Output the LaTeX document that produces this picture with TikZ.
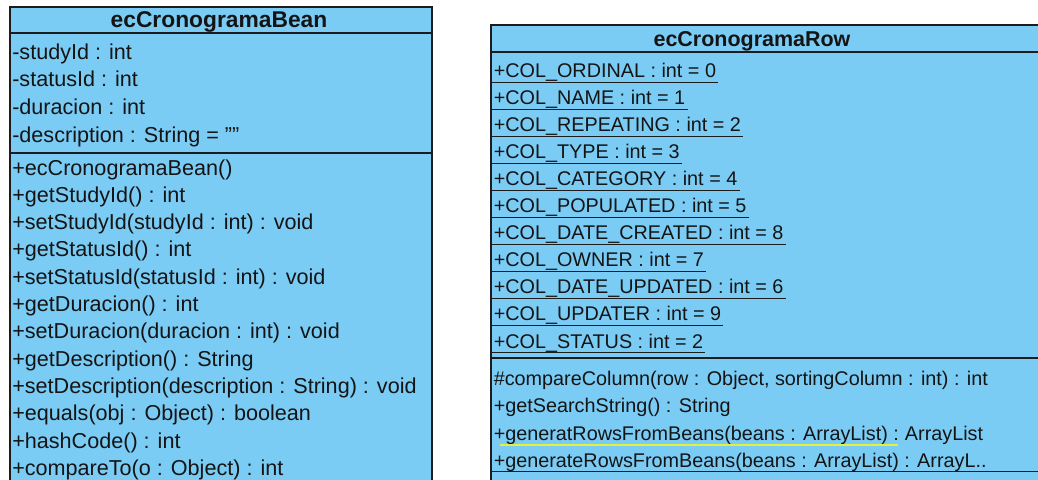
\documentclass[tikz,border=0pt]{standalone}
\usepackage{fontspec}
\setmainfont{Liberation Sans}
\definecolor{umlfill}{RGB}{122,204,245}
\definecolor{umlline}{RGB}{28,28,28}
\definecolor{umltext}{RGB}{20,20,20}
\definecolor{squiggle}{RGB}{228,240,60}

\begin{document}
\begin{tikzpicture}[x=0.75pt,y=-0.75pt,
  classbox/.style={fill=umlfill, draw=umlline, line width=1.5pt},
  compsep/.style={draw=umlline, line width=1.5pt},
  ulined/.style={draw=umlline, line width=0.9pt},
  txtL/.style={anchor=base west, inner sep=0pt, text=umltext,
    font=\fontsize{16.2}{18}\selectfont},
  txtR/.style={anchor=base west, inner sep=0pt, text=umltext,
    font=\fontsize{14.85}{18}\selectfont},
  titleL/.style={anchor=base, inner sep=0pt, text=umltext,
    font=\fontsize{17.1}{20}\selectfont\bfseries},
  titleR/.style={anchor=base, inner sep=0pt, text=umltext,
    font=\fontsize{16.1}{20}\selectfont\bfseries}]

\fill[white] (0,0) rectangle (1038,479);
\useasboundingbox (0,0) rectangle (1038,479);
\clip (0,0) rectangle (1038,479);

% ---- class ecCronogramaBean ----
\draw[classbox] (10,7) rectangle (432,500);
\draw[compsep] (10,33) -- (432,33);
\draw[compsep] (10,153) -- (432,153);
\node[titleL] (beanTitle) at (219,27) {ecCronogramaBean};

\foreach \t [count=\i from 0] in {{-studyId : int},{-statusId : int},
    {-duracion : int},{-description : String = ""}}
  \node[txtL] (ba\i) at (12,{59+27.7*\i}) {\t};

\foreach \t [count=\i from 0] in {{+ecCronogramaBean()},{+getStudyId() : int},
    {+setStudyId(studyId : int) : void},{+getStatusId() : int},
    {+setStatusId(statusId : int) : void},{+getDuracion() : int},
    {+setDuracion(duracion : int) : void},{+getDescription() : String},
    {+setDescription(description : String) : void},
    {+equals(obj : Object) : boolean},{+hashCode() : int},
    {+compareTo(o : Object) : int}}
  \node[txtL] (bm\i) at (12,{175+27.3*\i}) {\t};

% ---- class ecCronogramaRow ----
\draw[classbox] (491,25) rectangle (1060,500);
\draw[compsep] (491,52) -- (1060,52);
\draw[compsep] (491,358) -- (1060,358);
\node[titleR] (rowTitle) at (752,46.5) {ecCronogramaRow};

% static attributes, underlined
\foreach \t [count=\i from 0] in {{+COL\_ORDINAL : int = 0},{+COL\_NAME : int = 1},
    {+COL\_REPEATING : int = 2},{+COL\_TYPE : int = 3},
    {+COL\_CATEGORY : int = 4},{+COL\_POPULATED : int = 5},
    {+COL\_DATE\_CREATED : int = 8},{+COL\_OWNER : int = 7},
    {+COL\_DATE\_UPDATED : int = 6},{+COL\_UPDATER : int = 9},
    {+COL\_STATUS : int = 2}}
{
  \node[txtR] (ra\i) at (493.5,{77.7+27.03*\i}) {\t};
  \draw[ulined] ([shift={(-1.5,4.5)}]ra\i.base west) -- ([shift={(2,4.5)}]ra\i.base east);
}

% operations
\node[txtR] (rm0) at (493.5,385) {\#compareColumn(row : Object, sortingColumn : int) : int};
\node[txtR] (rm1) at (493.5,412.5) {+getSearchString() : String};
\node[txtR] (rm2) at (493.5,440) {+generatRowsFromBeans(beans : ArrayList) :};
\node[txtR] (rm2r) at (rm2.base east) [anchor=base west] {\ ArrayList};
\node[txtR] (rm3) at (493.5,467.3) {+generateRowsFromBeans(beans : ArrayList) : ArrayL..};

\draw[squiggle, line width=1.3pt] ([shift={(6,5)}]rm2.base west) -- ([shift={(-1,5)}]rm2.base east);
\coordinate (rowEdge) at (1060,471.8);
\draw[ulined] ([shift={(-1.5,4.5)}]rm3.base west) -- (rowEdge);
\end{tikzpicture}
\end{document}
